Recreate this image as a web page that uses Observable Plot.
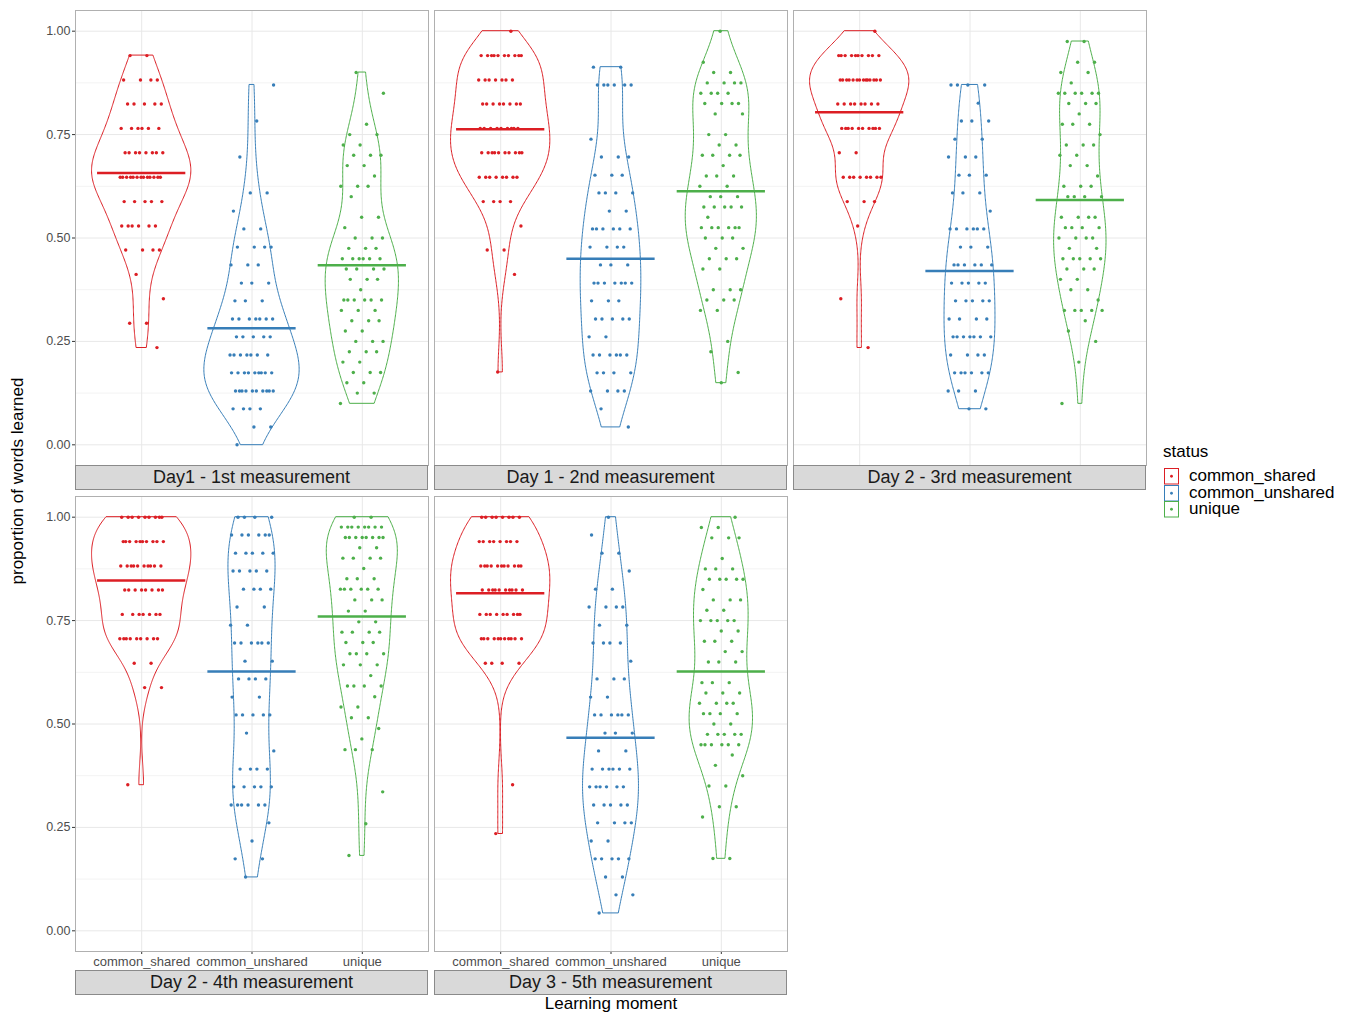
<!DOCTYPE html>
<html><head><meta charset="utf-8">
<script src="https://cdn.jsdelivr.net/npm/d3@7"></script>
<script src="https://cdn.jsdelivr.net/npm/@observablehq/plot@0.6"></script>
<style>
body{margin:0;background:#fff;font-family:"Liberation Sans",Arial,sans-serif;}
#wrap{position:relative;width:1370px;height:1014px;overflow:hidden;}
.panel{position:absolute;}
.strip{position:absolute;background:#d9d9d9;border:1px solid #8a8a8a;box-sizing:border-box;text-align:center;font-size:18px;color:#1a1a1a;line-height:23px;}
.ttl{position:absolute;font-size:17px;color:#000;white-space:nowrap;}
</style></head><body><div id="wrap"></div>
<script>
// ---------- data ----------
const statuses = ["common_shared", "common_unshared", "unique"];
const colors = ["#DC1E24", "#377EB8", "#4DAF4A"];
const moments = ["Day1 - 1st measurement", "Day 1 - 2nd measurement", "Day 2 - 3rd measurement",
                 "Day 2 - 4th measurement", "Day 3 - 5th measurement"];
const yTicks = [0, 0.25, 0.5, 0.75, 1];
const yMinor = [0.125, 0.375, 0.625, 0.875];

// [proportion, number of participants]
const m1_shared = [[0.941,2],[0.882,4],[0.824,5],[0.765,6],[0.706,8],[0.647,13],[0.588,5],[0.529,6],[0.471,4],[0.412,1],[0.353,1],[0.294,2],[0.235,1]];
const m1_unshared = [[0.870,1],[0.783,1],[0.696,1],[0.609,2],[0.565,1],[0.522,2],[0.478,4],[0.435,3],[0.391,3],[0.348,3],[0.304,7],[0.261,5],[0.217,7],[0.174,9],[0.130,10],[0.087,4],[0.043,2],[0,1]];
const m1_unique = [[0.9,1],[0.85,1],[0.775,1],[0.75,2],[0.725,2],[0.7,3],[0.675,2],[0.65,1],[0.625,3],[0.6,1],[0.55,2],[0.525,1],[0.5,3],[0.475,3],[0.45,6],[0.425,4],[0.4,3],[0.375,1],[0.35,6],[0.325,3],[0.3,3],[0.275,2],[0.25,3],[0.225,3],[0.2,2],[0.175,3],[0.15,2],[0.125,2],[0.1,1]];

const m2_shared = [[1,1],[0.941,10],[0.882,7],[0.824,8],[0.765,9],[0.706,10],[0.647,8],[0.588,4],[0.529,1],[0.471,2],[0.412,1],[0.176,1]];
const m2_unshared = [[0.913,2],[0.870,6],[0.739,1],[0.696,3],[0.652,3],[0.609,4],[0.565,2],[0.522,6],[0.478,4],[0.435,3],[0.391,7],[0.348,3],[0.304,5],[0.261,2],[0.217,6],[0.174,4],[0.130,4],[0.087,1],[0.043,1]];
const m2_unique = [[1,1],[0.925,1],[0.9,2],[0.875,4],[0.85,4],[0.825,4],[0.8,2],[0.75,2],[0.725,2],[0.7,4],[0.675,1],[0.65,3],[0.625,2],[0.6,3],[0.575,5],[0.55,1],[0.525,6],[0.5,3],[0.475,2],[0.45,3],[0.425,2],[0.375,3],[0.35,3],[0.325,2],[0.25,1],[0.225,1],[0.175,1],[0.15,1]];

const m3_shared = [[1,1],[0.941,10],[0.882,14],[0.824,8],[0.765,10],[0.706,2],[0.647,8],[0.588,3],[0.529,1],[0.353,1],[0.235,1]];
const m3_unshared = [[0.870,4],[0.826,1],[0.783,3],[0.739,2],[0.696,3],[0.652,3],[0.609,3],[0.565,1],[0.522,6],[0.478,3],[0.435,6],[0.391,5],[0.348,5],[0.304,4],[0.261,7],[0.217,4],[0.174,6],[0.130,3],[0.087,2]];
const m3_unique = [[0.975,2],[0.925,2],[0.9,2],[0.875,1],[0.85,6],[0.825,3],[0.8,1],[0.775,3],[0.75,1],[0.725,3],[0.7,2],[0.675,2],[0.65,1],[0.625,3],[0.6,4],[0.55,4],[0.525,4],[0.5,4],[0.475,2],[0.45,5],[0.425,3],[0.4,2],[0.375,2],[0.35,1],[0.325,5],[0.3,1],[0.275,1],[0.25,1],[0.2,1],[0.1,1]];

const m4_shared = [[1,9],[0.941,10],[0.882,10],[0.824,8],[0.765,7],[0.706,9],[0.647,2],[0.588,2],[0.353,1]];
const m4_unshared = [[1,4],[0.957,6],[0.913,5],[0.870,5],[0.826,4],[0.783,2],[0.739,2],[0.696,6],[0.652,2],[0.609,4],[0.565,2],[0.522,5],[0.478,1],[0.435,1],[0.391,4],[0.348,5],[0.304,6],[0.261,1],[0.217,1],[0.174,2],[0.130,1]];
const m4_unique = [[1,2],[0.976,8],[0.951,8],[0.926,2],[0.901,4],[0.876,1],[0.851,3],[0.826,6],[0.800,3],[0.773,2],[0.747,2],[0.722,4],[0.697,3],[0.670,4],[0.643,3],[0.617,1],[0.592,4],[0.566,1],[0.541,2],[0.515,2],[0.489,1],[0.464,1],[0.438,3],[0.336,1],[0.259,1],[0.182,1]];

const m5_shared = [[1,8],[0.941,8],[0.882,11],[0.824,10],[0.765,9],[0.706,11],[0.647,4],[0.353,1],[0.235,1]];
const m5_unshared = [[1,1],[0.957,1],[0.913,2],[0.870,1],[0.826,2],[0.783,4],[0.739,2],[0.696,4],[0.652,1],[0.609,3],[0.565,2],[0.522,6],[0.478,3],[0.435,2],[0.391,6],[0.348,6],[0.304,5],[0.261,4],[0.217,2],[0.174,5],[0.130,2],[0.087,2],[0.043,1]];
const m5_unique = [[1,1],[0.975,2],[0.95,3],[0.9,1],[0.875,3],[0.85,5],[0.825,1],[0.8,3],[0.775,2],[0.75,5],[0.725,2],[0.7,3],[0.675,2],[0.65,3],[0.6,3],[0.575,3],[0.55,4],[0.525,4],[0.5,2],[0.475,5],[0.45,6],[0.425,1],[0.4,1],[0.375,1],[0.35,2],[0.3,2],[0.275,1],[0.175,2]];

// group means (horizontal bars)
const means1 = [0.657, 0.282, 0.434];
const means2 = [0.763, 0.450, 0.613];
const means3 = [0.804, 0.420, 0.592];
const means4 = [0.847, 0.627, 0.760];
const means5 = [0.816, 0.467, 0.627];

// ---------- layout ----------
const panels = [
  {label: moments[0], groups: [m1_shared, m1_unshared, m1_unique], means: means1, left: 75,  top: 10,  yAxis: true,  xAxis: false},
  {label: moments[1], groups: [m2_shared, m2_unshared, m2_unique], means: means2, left: 434, top: 10,  yAxis: false, xAxis: false},
  {label: moments[2], groups: [m3_shared, m3_unshared, m3_unique], means: means3, left: 793, top: 10,  yAxis: false, xAxis: false},
  {label: moments[3], groups: [m4_shared, m4_unshared, m4_unique], means: means4, left: 75,  top: 496, yAxis: true,  xAxis: true},
  {label: moments[4], groups: [m5_shared, m5_unshared, m5_unique], means: means5, left: 434, top: 496, yAxis: false, xAxis: true}
];
const PW = 353, PH = 455;
const wrap = document.getElementById("wrap");

function expand(pairs) { return pairs.flatMap(([v, c]) => Array(c).fill(v)); }
function bwNrd0(vals) {
  const s = vals.slice().sort(d3.ascending);
  const sd = d3.deviation(s);
  const iqr = d3.quantile(s, 0.75) - d3.quantile(s, 0.25);
  let lo = Math.min(sd, iqr / 1.34);
  if (!(lo > 0)) lo = sd || Math.abs(s[0]) || 1;
  return 0.9 * lo * Math.pow(s.length, -0.2);
}
function kde(vals) {
  const bw = bwNrd0(vals);
  const lo = d3.min(vals), hi = d3.max(vals), N = 256;
  const ys = d3.range(N).map(i => lo + (hi - lo) * i / (N - 1));
  return ys.map(y => ({y, d: d3.mean(vals, v => Math.exp(-0.5 * ((y - v) / bw) ** 2)) / (bw * Math.sqrt(2 * Math.PI))}));
}

panels.forEach((p, pi) => {
  const ml = p.yAxis ? 75 : 0;
  const mb = p.xAxis ? 20 : 0;
  const dens = p.groups.map(g => kde(expand(g)));
  const maxD = d3.max(dens.flat(), d => d.d);
  const marks = [
    Plot.gridY(yMinor, {stroke: "#f3f3f3", strokeOpacity: 1}),
    Plot.gridY(yTicks, {stroke: "#e8e8e8", strokeOpacity: 1}),
    Plot.gridX([1, 2, 3], {stroke: "#e8e8e8", strokeOpacity: 1})
  ];
  p.groups.forEach((g, gi) => {
    const c = gi + 1;
    const vdata = dens[gi].map(d => ({y: d.y, x1: c - 0.45 * d.d / maxD, x2: c + 0.45 * d.d / maxD}));
    marks.push(Plot.areaX(vdata, {y: "y", x1: "x1", x2: "x2", fill: "none", stroke: colors[gi], strokeWidth: 1}));
    const vals = expand(g);
    const seed = (pi * 3 + gi) * 0.371;
    const pts = vals.map((v, i) => ({y: v, x: c + ((((i + 1) * 0.6180339887 + seed) % 1) - 0.5) * 0.4}));
    marks.push(Plot.dot(pts, {x: "x", y: "y", r: 1.7, fill: colors[gi], stroke: null}));
    marks.push(Plot.ruleY([p.means[gi]], {y: d => d, x1: () => c - 0.4, x2: () => c + 0.4, stroke: colors[gi], strokeWidth: 2.5}));
  });
  if (p.yAxis) marks.push(Plot.axisY(yTicks, {label: null, tickFormat: d3.format(".2f"), tickSize: 3, tickPadding: 2, fontSize: 12.5, fill: "#4d4d4d", stroke: "#333"}));
  if (p.xAxis) marks.push(Plot.axisX([1, 2, 3], {label: null, tickFormat: d => statuses[d - 1], tickSize: 3, tickPadding: 2, fontSize: 13, fill: "#4d4d4d", stroke: "#333"}));
  marks.push(Plot.frame({stroke: "#b0b0b0"}));
  const svg = Plot.plot({
    width: PW + ml, height: PH + mb,
    marginLeft: ml, marginRight: 0, marginTop: 0, marginBottom: mb,
    style: {fontFamily: "Liberation Sans, Arial, sans-serif", background: "transparent", overflow: "visible"},
    x: {domain: [0.4, 3.6], axis: null, label: null},
    y: {domain: [-0.05, 1.05], axis: null, label: null},
    marks
  });
  svg.classList.add("panel");
  svg.style.left = (p.left - ml) + "px";
  svg.style.top = p.top + "px";
  wrap.appendChild(svg);
  const strip = document.createElement("div");
  strip.className = "strip";
  strip.textContent = p.label;
  strip.style.left = p.left + "px";
  strip.style.width = PW + "px";
  strip.style.top = (p.top + PH + (p.xAxis ? 19 : 0)) + "px";
  strip.style.height = "25px";
  wrap.appendChild(strip);
});

// axis titles
const yt = document.createElement("div");
yt.className = "ttl";
yt.textContent = "proportion of words learned";
yt.style.left = "18px"; yt.style.top = "481px";
yt.style.transform = "translate(-50%,-50%) rotate(-90deg)";
wrap.appendChild(yt);
const xt = document.createElement("div");
xt.className = "ttl";
xt.textContent = "Learning moment";
xt.style.left = "611px"; xt.style.top = "1004px";
xt.style.transform = "translate(-50%,-50%)";
wrap.appendChild(xt);

// legend
const lg = document.createElement("div");
lg.style.position = "absolute"; lg.style.left = "1163px"; lg.style.top = "442px";
let html = '<div style="font-size:17px;line-height:20px;margin-bottom:6px">status</div>';
statuses.forEach((s, i) => {
  html += '<div style="display:flex;align-items:center;height:16.5px">' +
    '<svg width="17" height="16.5" style="margin-right:9px"><rect x="1.5" y="0.5" width="14" height="15.5" fill="#fff" stroke="' + colors[i] + '" stroke-width="1"/>' +
    '<circle cx="8.5" cy="8.25" r="1.4" fill="' + colors[i] + '"/></svg>' +
    '<span style="font-size:17px;line-height:16px">' + s + '</span></div>';
});
lg.innerHTML = html;
wrap.appendChild(lg);
</script></body></html>
